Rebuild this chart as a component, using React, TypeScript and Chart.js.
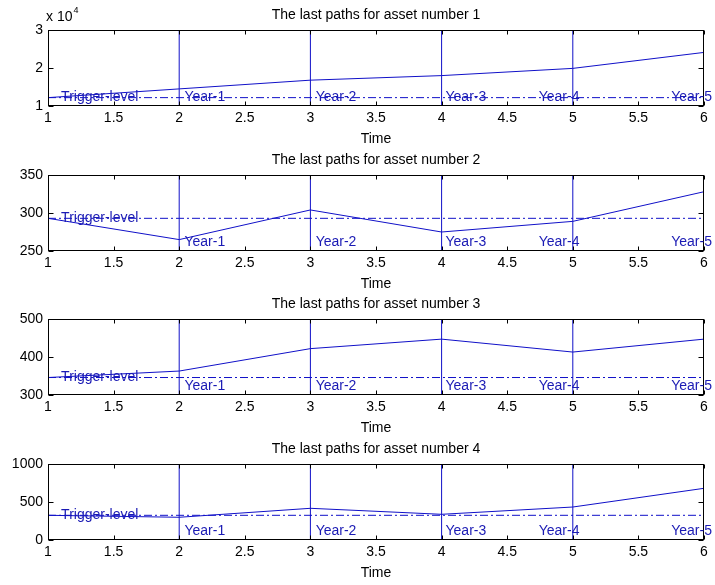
import React, { useEffect, useRef } from "react";
import { Chart, registerables } from "chart.js";

Chart.register(...registerables);

// ---- data ----
const times = [1, 2, 3, 4, 5, 6];
const asset1 = [12200, 14500, 16800, 18000, 19900, 24100];
const asset2 = [293, 265, 304, 275, 289, 328];
const asset3 = [346, 363, 422, 447, 413, 447];
const asset4 = [325, 299, 417, 338, 434, 680];
const assetSeries = [asset1, asset2, asset3, asset4];
const triggerLevels = [12200, 293, 346, 325];
const yMins = [10000, 250, 300, 0];
const yMaxs = [30000, 350, 500, 1000];
const ySteps = [10000, 50, 100, 500];
const yTickScale = [10000, 1, 1, 1];
const yearTimes = [2, 3, 4, 5];
const yearLabels = ["Year-1", "Year-2", "Year-3", "Year-4", "Year-5"];
const yearLabelX = [2.04, 3.04, 4.03, 4.74, 5.75];
const yearLabelY = [12300, 262, 323, 118];
const triggerLabel = "Trigger-level";
const triggerLabelX = 1.1;
const titles = [
  "The last paths for asset number 1",
  "The last paths for asset number 2",
  "The last paths for asset number 3",
  "The last paths for asset number 4",
];
const xLabel = "Time";

// ---- layout/style ----
const W = 715;
const CH = 145;
const PLOT_TOP = 30;
const PLOT_H = 76;
const canvasTops = [0, 145, 289, 434];
const FONT = "'Liberation Sans', Arial, Helvetica, sans-serif";
const FS = 14;
const BLUE = "#1010c8";
const TEXT_BLUE = "#1a1ab4";

function SubPlot({ idx }: { idx: number }) {
  const ref = useRef<HTMLCanvasElement>(null);
  useEffect(() => {
    if (!ref.current) return;
    const series = assetSeries[idx];
    const ymin = yMins[idx];
    const ymax = yMaxs[idx];
    const datasets: any[] = [
      {
        data: times.map((t, i) => ({ x: t, y: series[i] })),
        borderColor: BLUE,
        borderWidth: 1,
        pointRadius: 0,
      },
      {
        data: [
          { x: times[0], y: triggerLevels[idx] },
          { x: times[times.length - 1], y: triggerLevels[idx] },
        ],
        borderColor: BLUE,
        borderWidth: 1,
        borderDash: [8, 3, 2, 3],
        pointRadius: 0,
      },
      ...yearTimes.map((t) => ({
        data: [
          { x: t, y: ymin },
          { x: t, y: ymax },
        ],
        borderColor: BLUE,
        borderWidth: 1,
        pointRadius: 0,
      })),
    ];

    const decor = {
      id: "decor",
      afterDraw(chart: any) {
        const ctx = chart.ctx;
        const a = chart.chartArea;
        const xs = chart.scales.x;
        const ys = chart.scales.y;
        ctx.save();
        // frame
        ctx.strokeStyle = "#000";
        ctx.lineWidth = 1;
        const L = Math.round(a.left) + 0.5;
        const R = Math.round(a.right) - 0.5;
        const T = Math.round(a.top) + 0.5;
        const B = Math.round(a.bottom) - 0.5;
        ctx.strokeRect(L, T, R - L, B - T);
        // inward ticks
        ctx.beginPath();
        xs.ticks.forEach((tk: any) => {
          const px = Math.round(xs.getPixelForValue(tk.value)) + 0.5;
          ctx.moveTo(px, T);
          ctx.lineTo(px, T + 4);
          ctx.moveTo(px, B);
          ctx.lineTo(px, B - 4);
        });
        ys.ticks.forEach((tk: any) => {
          const py = Math.round(ys.getPixelForValue(tk.value)) + 0.5;
          ctx.moveTo(L, py);
          ctx.lineTo(L + 5, py);
          ctx.moveTo(R, py);
          ctx.lineTo(R - 5, py);
        });
        ctx.stroke();
        // title
        ctx.fillStyle = "#000";
        ctx.font = `${FS}px ${FONT}`;
        ctx.textAlign = "center";
        ctx.textBaseline = "middle";
        const cx = (a.left + a.right) / 2;
        ctx.fillText(titles[idx], cx, a.top - 15);
        ctx.fillText(xLabel, cx, a.bottom + 33);
        if (yTickScale[idx] !== 1) {
          ctx.textAlign = "left";
          ctx.fillText("x 10", a.left - 2, a.top - 13);
          const w = ctx.measureText("x 10").width;
          ctx.font = `9px ${FONT}`;
          ctx.fillText(String(Math.round(Math.log10(yTickScale[idx]))), a.left - 2 + w + 1, a.top - 19);
        }
        // annotations
        ctx.fillStyle = TEXT_BLUE;
        ctx.font = `${FS}px ${FONT}`;
        ctx.textAlign = "left";
        ctx.textBaseline = "middle";
        ctx.fillText(
          triggerLabel,
          xs.getPixelForValue(triggerLabelX),
          ys.getPixelForValue(triggerLevels[idx])
        );
        yearLabels.forEach((lab, i) => {
          ctx.fillText(
            lab,
            xs.getPixelForValue(yearLabelX[i]),
            ys.getPixelForValue(yearLabelY[idx])
          );
        });
        ctx.restore();
      },
    };

    const chart = new Chart(ref.current, {
      type: "line",
      data: { datasets },
      options: {
        animation: false,
        responsive: false,
        devicePixelRatio: 1,
        layout: { padding: { top: PLOT_TOP, left: 0, right: 11, bottom: 0 } },
        plugins: { legend: { display: false }, tooltip: { enabled: false }, title: { display: false } },
        elements: { point: { radius: 0 }, line: { tension: 0 } },
        scales: {
          x: {
            type: "linear",
            min: 1,
            max: 6,
            afterFit: (s: any) => {
              s.height = CH - PLOT_TOP - PLOT_H;
            },
            grid: { display: false, drawTicks: false },
            border: { display: false },
            ticks: {
              stepSize: 0.5,
              padding: 4,
              color: "#000",
              font: { family: FONT, size: FS },
              maxRotation: 0,
              autoSkip: false,
              includeBounds: true,
              callback: (v: any) => String(Number(v)),
            },
          },
          y: {
            type: "linear",
            min: ymin,
            max: ymax,
            afterFit: (s: any) => {
              s.width = 48;
            },
            grid: { display: false, drawTicks: false },
            border: { display: false },
            ticks: {
              stepSize: ySteps[idx],
              padding: 5,
              color: "#000",
              font: { family: FONT, size: FS },
              callback: (v: any) => String(Number(v) / yTickScale[idx]),
            },
          },
        },
      } as any,
      plugins: [decor],
    });
    return () => chart.destroy();
  }, [idx]);
  return (
    <canvas
      ref={ref}
      width={W}
      height={CH}
      style={{ position: "absolute", left: 0, top: canvasTops[idx], width: W, height: CH, display: "block" }}
    />
  );
}

export default function App() {
  return (
    <div style={{ position: "absolute", left: 0, top: 0, width: W, height: 585, background: "#fff", overflow: "hidden" }}>
      {[0, 1, 2, 3].map((i) => (
        <SubPlot key={i} idx={i} />
      ))}
    </div>
  );
}
